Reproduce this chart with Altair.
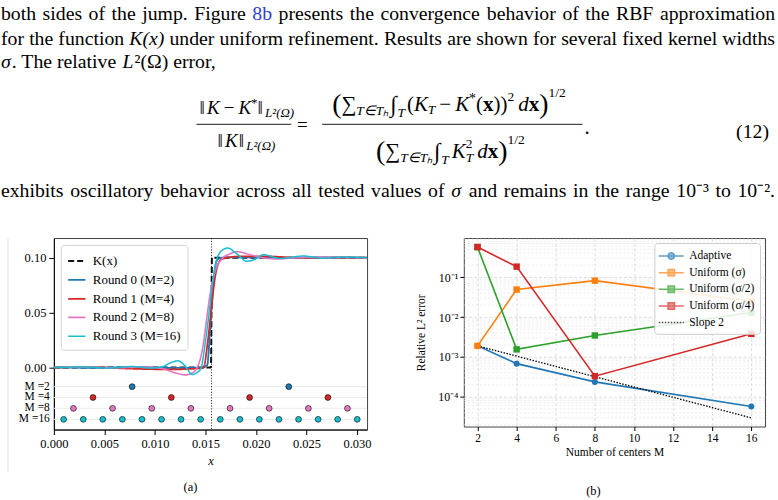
import altair as alt
import pandas as pd

SERIF = "Liberation Serif"
BLUE, ORANGE, GREEN, RED, PINK, CYAN = "#1f77b4", "#ff7f0e", "#2ca02c", "#d62728", "#e377c2", "#17becf"
LINK = "#2f3fd0"

# ---------------- page text ----------------
LINE1 = ["both sides of the jump. Figure", "8b", "presents the convergence behavior of the RBF approximation"]
LINE2 = ["for the function", "K(x)", "under uniform refinement. Results are shown for several fixed kernel widths"]
LINE3 = ["σ", ". The relative", "L", "²(Ω) error,"]
LINE4 = ["exhibits oscillatory behavior across all tested values of", "σ",
         "and remains in the range 10⁻³ to 10⁻²."]
EQ_NUMBER = "(12)"
CAPTIONS = ["(a)", "(b)"]

# ---------------- panel (a) data ----------------
K_X = [0.0, 0.01555, 0.01565, 0.031]
K_Y = [0.0, 0.0, 0.1, 0.1]
R0_X = [0.0, 0.004, 0.008, 0.012, 0.0146, 0.01517, 0.01549, 0.01582, 0.01615, 0.01665, 0.019, 0.023, 0.027, 0.031]
R0_Y = [0.0, -0.0003, 0.0002, -0.0004, -0.0003, 0.002, 0.0385, 0.081, 0.0976, 0.1, 0.1004, 0.0998, 0.1002, 0.1]
R1_X = [0.0, 0.004, 0.0065, 0.009, 0.0115, 0.0135, 0.0148, 0.01523, 0.01559, 0.01599, 0.01648, 0.01714,
        0.0185, 0.021, 0.0235, 0.026, 0.0285, 0.031]
R1_Y = [0.0, 0.0003, -0.0008, -0.0015, -0.0018, -0.0014, -0.0003, 0.0234, 0.0536, 0.084, 0.0976, 0.1,
        0.1012, 0.1012, 0.1002, 0.0997, 0.1001, 0.1]
R2_X = [0.0, 0.003, 0.006, 0.009, 0.0108, 0.0121, 0.013, 0.0138, 0.01418, 0.01451, 0.01483, 0.01517,
        0.01556, 0.01599, 0.01665, 0.01747, 0.0181, 0.0195, 0.021, 0.0222, 0.024, 0.027, 0.031]
R2_Y = [0.0, 0.0004, -0.0003, 0.0003, -0.0012, -0.0052, -0.0068, -0.0045, 0.0, 0.0082, 0.0234, 0.0476,
        0.0718, 0.0885, 0.099, 0.1036, 0.1055, 0.1025, 0.0995, 0.0988, 0.1, 0.1003, 0.1]
R3_X = [0.0, 0.003, 0.0055, 0.0078, 0.0095, 0.0108, 0.0116, 0.0123, 0.013, 0.0137, 0.0142, 0.01455, 0.015,
        0.01542, 0.01582, 0.01615, 0.01665, 0.0172, 0.0181, 0.0191, 0.0199, 0.02075, 0.0224, 0.02467,
        0.02664, 0.02862, 0.031]
R3_Y = [0.0, 0.0004, -0.0005, 0.0008, -0.0006, 0.0008, 0.0045, 0.006, 0.0012, -0.0065, -0.0045, -0.001, 0.0234,
        0.0536, 0.084, 0.099, 0.1067, 0.1088, 0.1035, 0.0968, 0.0985, 0.1027, 0.0993, 0.1015,
        0.0995, 0.1005, 0.1]
CURVE_NAMES = ["K(x)", "Round 0 (M=2)", "Round 1 (M=4)", "Round 2 (M=8)", "Round 3 (M=16)"]
CURVE_COLORS = ["#111111", BLUE, RED, PINK, CYAN]
CURVE_DASH = [[6, 3], [1, 0], [1, 0], [1, 0], [1, 0]]
CURVE_WIDTH = [2.0, 1.5, 1.5, 1.5, 1.5]
JUMP_X = 0.0156

ROW_NAMES = ["M =2", "M =4", "M =8", "M =16"]
ROW_Y = [-0.0175, -0.0274, -0.0373, -0.0473]
ROW_COLORS = [BLUE, RED, PINK, CYAN]
CENTERS = [
    [0.00775, 0.02325],
    [0.003875, 0.011625, 0.019375, 0.027125],
    [0.00194, 0.00581, 0.00969, 0.01356, 0.01744, 0.02131, 0.02519, 0.02906],
    [0.00097, 0.00291, 0.00484, 0.00678, 0.00872, 0.01066, 0.01259, 0.01453,
     0.01647, 0.01841, 0.02034, 0.02228, 0.02422, 0.02616, 0.02809, 0.03003],
]
XA_TICKS = [0.0, 0.005, 0.01, 0.015, 0.02, 0.025, 0.03]
YA_TICKS = [0.0, 0.05, 0.1]

# ---------------- panel (b) data ----------------
M_VALUES = [2, 4, 8, 16]
ERR_NAMES = ["Adaptive", "Uniform (σ)", "Uniform (σ/2)", "Uniform (σ/4)"]
ERR_COLORS = [BLUE, ORANGE, GREEN, RED]
ADAPTIVE = [1.9e-3, 6.8e-4, 2.37e-4, 5.7e-5]
UNI_S = [1.9e-3, 4.9e-2, 8.2e-2, 2.5e-2]
UNI_S2 = [5.7e-1, 1.55e-3, 3.46e-3, 1.3e-2]
UNI_S4 = [5.7e-1, 1.84e-1, 3.3e-4, 3.8e-3]
SLOPE_NAME = "Slope 2"
SLOPE_M = [2, 16]
SLOPE_V = [1.9e-3, 2.97e-5]
XB_TICKS = [2, 4, 6, 8, 10, 12, 14, 16]
YB_TICKS = [1e-4, 1e-3, 1e-2, 1e-1]
MINOR = [m * 10.0 ** e for e in (-5, -4, -3, -2, -1) for m in range(2, 10)]

# ---------------- text helpers ----------------
ONE = pd.DataFrame({"d": [0]})
OX = 53  # the text block shares its left origin with panel (a)'s plot area
B = 19.8  # body font size

# approximate advance widths (em) of the serif font, used only to lay words out on a line
W = {' ': .25, '(': .333, ')': .333, ',': .25, '.': .25, '/': .278, '=': .564, '*': .5, '−': .564,
     'σ': .6, 'Ω': .768, '²': .3, '³': .3, '⁻': .35, '∑': .71, '∈': .71, 'ₕ': .4, '∫': .27, '‖': .4}
W.update({d: .5 for d in "0123456789"})
W.update(dict(zip("ABCDEFGHIJKLMNOPQRSTUVWXYZ",
                  [.722, .667, .667, .722, .611, .556, .722, .722, .333, .389, .722, .611, .889, .722, .722,
                   .556, .722, .667, .556, .611, .722, .722, .944, .722, .722, .611])))
W.update(dict(zip("abcdefghijklmnopqrstuvwxyz",
                  [.444, .5, .444, .5, .444, .333, .5, .5, .278, .278, .5, .278, .778, .5, .5, .5, .5, .333,
                   .389, .278, .5, .5, .722, .5, .5, .444])))
W_IT = {'K': .667, 'x': .444, 'L': .556, 'T': .556, 'd': .5, 'σ': .55}


def tw(text, size, style="normal"):
    tab = dict(W, **W_IT) if style == "italic" else W
    return sum(tab.get(ch, .5) for ch in text) * size


def label(text, x, y, size=B, style="normal", weight="normal", color="black", align="left"):
    return alt.Chart(ONE).mark_text(
        text=text, align=align, baseline="middle", font=SERIF, fontSize=size,
        fontStyle=style, fontWeight=weight, color=color
    ).encode(x=alt.value(x - OX), y=alt.value(y))


def hline(x1, x2, y, width=0.9):
    return alt.Chart(ONE).mark_rule(color="black", strokeWidth=width).encode(
        x=alt.value(x1 - OX), x2=alt.value(x2 - OX), y=alt.value(y))


def justified(words, y, right=776):
    """words: list of (text, style, color); spreads them over the full text width."""
    ws = [tw(t, B, s) for t, s, c in words]
    gap = (right - sum(ws)) / (len(words) - 1)
    out, x = [], 0.0
    for k, ((t, s, c), w) in enumerate(zip(words, ws)):
        if k == len(words) - 1:
            out.append(label(t, right, y, B, s, color=c, align="right"))
        else:
            out.append(label(t, x, y, B, s, color=c))
        x += w + gap
    return out


def run(x0, y, items):
    """items: (text, size, style, weight, dy, gap_after, advance)"""
    out, x = [], x0
    for t, size, style, weight, dy, gap, adv in items:
        out.append(label(t, x, y + dy, size, style, weight))
        if adv:
            x += tw(t, size, style)
        x += gap
    return out


def it(t, size, dy=0, gap=0, adv=True):
    return (t, size, "italic", "normal", dy, gap, adv)


def rm(t, size, dy=0, gap=0, adv=True):
    return (t, size, "normal", "normal", dy, gap, adv)


def bf(t, size, dy=0, gap=0, adv=True):
    return (t, size, "normal", "bold", dy, gap, adv)


def words(text, style="normal", color="black"):
    return [(w, style, color) for w in text.split()]


# ---------------- top text block ----------------
EM, SB, BIG = 21, 13.5, 28
pieces = []
pieces += justified(words(LINE1[0]) + words(LINE1[1], color=LINK) + words(LINE1[2]), 12)
pieces += justified(words(LINE2[0]) + words(LINE2[1], "italic") + words(LINE2[2]), 37)
pieces += run(0, 61, [it(LINE3[0], B), rm(LINE3[1], B, gap=B * .3), it(LINE3[2], B, gap=1), rm(LINE3[3], B)])
pieces += justified(words(LINE4[0]) + words(LINE4[1], "italic") + words(LINE4[2]), 190)
# left fraction
pieces += run(199, 107, [rm("‖", 19), it("K", 19, gap=4), rm("−", 19, gap=4), it("K", 19),
                         rm("*", 13, dy=-5), rm("‖", 19), it("L²(Ω)", 13, dy=5)])
pieces += [hline(196, 291, 123)]
pieces += run(217, 140, [rm("‖", 19), it("K", 19, gap=1), rm("‖", 19), it("L²(Ω)", 13, dy=5)])
pieces += [label("=", 302, 124, 19, align="center")]
# right numerator
pieces += run(332, 104, [rm("(", BIG), rm("∑", EM), it("T∈Tₕ", SB, dy=6, gap=4), it("∫", 23, gap=1),
                         it("T", SB, dy=8, gap=2), rm("(", EM), it("K", EM), it("T", SB, dy=5, gap=4),
                         rm("−", EM, gap=4), it("K", EM), rm("*", 14, dy=-6), rm("(", EM), bf("x", EM),
                         rm("))", EM), rm("2", SB, dy=-8, gap=4), it("d", EM), bf("x", EM),
                         rm(")", BIG), rm("1/2", SB, dy=-12)])
pieces += [hline(322, 583, 123)]
# right denominator
pieces += run(376, 151, [rm("(", BIG), rm("∑", EM), it("T∈Tₕ", SB, dy=6, gap=4), it("∫", 23, gap=1),
                         it("T", SB, dy=8, gap=3), it("K", EM), rm("2", SB, dy=-8, adv=False),
                         it("T", SB, dy=6, gap=4), it("d", EM), bf("x", EM), rm(")", BIG),
                         rm("1/2", SB, dy=-12)])
pieces += [label(".", 585, 127, EM), label(EQ_NUMBER, 737, 131, B)]
top = alt.layer(*pieces).properties(width=778 - OX, height=231,
                                     view=alt.ViewBackground(stroke="transparent"))

# ---------------- panel (a) ----------------
rows = []
for name, xs, ys in zip(CURVE_NAMES, [K_X, R0_X, R1_X, R2_X, R3_X], [K_Y, R0_Y, R1_Y, R2_Y, R3_Y]):
    for i, (a, b) in enumerate(zip(xs, ys)):
        rows.append({"series": name, "x": a, "y": b, "i": i})
curves_df = pd.DataFrame(rows)

pts = []
for name, yv, cs in zip(ROW_NAMES, ROW_Y, CENTERS):
    for c in cs:
        pts.append({"grp": name, "x": c, "y": yv})
pts_df = pd.DataFrame(pts)
rows_df = pd.DataFrame({"y": ROW_Y, "label": ROW_NAMES})
jump_df = pd.DataFrame({"x": [JUMP_X]})

xs_a = alt.Scale(domain=[0, 0.031], nice=False, zero=False)
ys_a = alt.Scale(domain=[-0.0566, 0.1179], nice=False, zero=False)
XA = alt.X("x:Q", scale=xs_a, axis=alt.Axis(values=XA_TICKS, format=".3f", title="x", titleFontStyle="italic",
                                           titleFontSize=12.5, titlePadding=5, grid=False, tickSize=5,
                                           labelFontSize=12.5, labelPadding=3, labelFlush=False))
YA = alt.Y("y:Q", scale=ys_a, axis=alt.Axis(values=YA_TICKS, format=".2f", title=None, grid=False, tickSize=5,
                                           labelFontSize=12.5, labelPadding=3, minExtent=53, maxExtent=53))

LEG_A = alt.Legend(title=None, orient="top-left", offset=7, fillColor="white", strokeColor="#d5d5d5",
                   cornerRadius=3, padding=6, labelFont=SERIF, labelFontSize=13, labelColor="black",
                   symbolType="stroke", symbolSize=300, rowPadding=2, labelOffset=6, labelLimit=200)

border = alt.Chart(ONE).mark_rule(color="#e2e2e2", strokeWidth=1).encode(
    x=alt.value(-46), y=alt.value(0), y2=alt.value(235))
m_rules = alt.Chart(rows_df).mark_rule(color="#ececec", strokeWidth=1).encode(y=YA)
jump = alt.Chart(jump_df).mark_rule(color="black", strokeDash=[1.2, 1.6], strokeWidth=0.8).encode(x=XA)
curves = alt.Chart(curves_df).mark_line(interpolate="monotone").encode(
    x=XA, y=YA,
    color=alt.Color("series:N", scale=alt.Scale(domain=CURVE_NAMES, range=CURVE_COLORS), legend=LEG_A),
    strokeDash=alt.StrokeDash("series:N", scale=alt.Scale(domain=CURVE_NAMES, range=CURVE_DASH), legend=LEG_A),
    strokeWidth=alt.StrokeWidth("series:N", scale=alt.Scale(domain=CURVE_NAMES, range=CURVE_WIDTH), legend=LEG_A),
    order="i:Q",
)
points_a = alt.Chart(pts_df).mark_point(filled=True, size=34, opacity=1, stroke="black", strokeWidth=0.6).encode(
    x=XA, y=YA,
    fill=alt.Fill("grp:N", scale=alt.Scale(domain=ROW_NAMES, range=ROW_COLORS), legend=None),
)
m_text = alt.Chart(rows_df).mark_text(align="right", baseline="middle", font=SERIF, fontSize=11.5,
                                      color="black").encode(y=YA, x=alt.value(-4), text="label:N")
cap_a = alt.Chart(ONE).mark_text(text=CAPTIONS[0], font=SERIF, fontSize=12.5, color="black",
                                 align="center", baseline="middle").encode(x=alt.value(137), y=alt.value(250))

left = alt.layer(border, m_rules, jump, curves, points_a, m_text, cap_a).properties(width=314, height=192)

# ---------------- panel (b) ----------------
err_rows = []
for name, vals in zip(ERR_NAMES, [ADAPTIVE, UNI_S, UNI_S2, UNI_S4]):
    for m, v in zip(M_VALUES, vals):
        err_rows.append({"series": name, "M": m, "err": v})
err_df = pd.DataFrame(err_rows)
slope_df = pd.DataFrame({"M": SLOPE_M, "err": SLOPE_V})
minor_df = pd.DataFrame({"err": MINOR})

LEG_NAMES = ERR_NAMES + [SLOPE_NAME]
R = 1.786
C = 0.457
CIRCLE_PATH = f"M-{R},0H{R}M-{C},0A{C},{C},0,1,0,{C},0A{C},{C},0,1,0,-{C},0Z"
SQUARE_PATH = f"M-{R},0H{R}M-{C},-{C}H{C}V{C}H-{C}Z"
LINE_PATH = f"M-{R},0H{R}"
leg_df = pd.DataFrame({"series": LEG_NAMES, "M": [0] * 5, "err": [1e-3] * 5})

xs_b = alt.Scale(domain=[1.3, 16.7], nice=False, zero=False)
ys_b = alt.Scale(type="log", domain=[1.8e-5, 0.96], nice=False)
LABEL_EXPR = ("datum.value < 0.0005 ? '10⁻⁴' : datum.value < 0.005 ? '10⁻³' : "
              "datum.value < 0.05 ? '10⁻²' : '10⁻¹'")
XB = alt.X("M:Q", scale=xs_b, axis=alt.Axis(values=XB_TICKS, title="Number of centers M", titleFontSize=11.5,
                                           titlePadding=3, labelFontSize=11.5, tickSize=4, labelPadding=2,
                                           grid=True, gridDash=[3, 2], gridColor="#d3d3d3", gridWidth=0.8,
                                           domain=False))
YB = alt.Y("err:Q", scale=ys_b, axis=alt.Axis(values=YB_TICKS, labelExpr=LABEL_EXPR, title="Relative L² error",
                                             titleFontSize=11.5, titlePadding=11, labelFontSize=12,
                                             tickSize=4, labelPadding=2, minExtent=26, maxExtent=26,
                                             grid=True, gridDash=[3, 2], gridColor="#d3d3d3", gridWidth=0.8,
                                             domain=False))
COL_B = alt.Color("series:N", scale=alt.Scale(domain=ERR_NAMES, range=ERR_COLORS), legend=None)
LEG_B = alt.Legend(title=None, orient="top-right", offset=5, fillColor="rgba(255,255,255,0.85)",
                   strokeColor="#cccccc", cornerRadius=3, padding=5, labelFont=SERIF, labelFontSize=11.5,
                   labelColor="black", symbolSize=196, symbolStrokeWidth=1.5, rowPadding=1.7,
                   labelOffset=10, symbolOffset=4, labelLimit=200)

minor = alt.Chart(minor_df).mark_rule(color="#e2e2e2", strokeDash=[2, 2], strokeWidth=0.7).encode(y=YB)
lines_b = alt.Chart(err_df).mark_line(strokeWidth=1.6).encode(x=XB, y=YB, color=COL_B)
slope = alt.Chart(slope_df).mark_line(color="black", strokeDash=[1.5, 1.5], strokeWidth=1.3).encode(x=XB, y=YB)
circles = alt.Chart(err_df[err_df.series == ERR_NAMES[0]]).mark_point(
    shape="circle", filled=True, size=36, opacity=1).encode(x=XB, y=YB, color=COL_B)
squares = alt.Chart(err_df[err_df.series != ERR_NAMES[0]]).mark_square(size=42, opacity=1).encode(
    x=XB, y=YB, color=COL_B)
legend_b = alt.Chart(leg_df).mark_point(filled=True, clip=True).encode(
    x=XB, y=YB,
    shape=alt.Shape("series:N", scale=alt.Scale(domain=LEG_NAMES,
                                                range=[CIRCLE_PATH, SQUARE_PATH, SQUARE_PATH, SQUARE_PATH, LINE_PATH]),
                    legend=LEG_B),
    fill=alt.Fill("series:N", scale=alt.Scale(domain=LEG_NAMES, range=ERR_COLORS + ["black"]), legend=LEG_B),
    stroke=alt.Stroke("series:N", scale=alt.Scale(domain=LEG_NAMES, range=ERR_COLORS + ["black"]), legend=LEG_B),
    strokeDash=alt.StrokeDash("series:N", scale=alt.Scale(domain=LEG_NAMES,
                                                          range=[[1, 0], [1, 0], [1, 0], [1, 0], [1.5, 1.5]]),
                              legend=LEG_B),
)
spacer = alt.Chart(ONE).mark_rule(opacity=0).encode(x=alt.value(0), y=alt.value(-4), y2=alt.value(0))
cap_b = alt.Chart(ONE).mark_text(text=CAPTIONS[1], font=SERIF, fontSize=12.5, color="black",
                                 align="center", baseline="middle").encode(x=alt.value(130), y=alt.value(254))

right = alt.layer(minor, lines_b, slope, circles, squares, legend_b, spacer, cap_b).properties(
    width=302, height=189)

INDEP = dict(color="independent", fill="independent", stroke="independent", shape="independent",
             strokeDash="independent", strokeWidth="independent")
bottom = alt.hconcat(left, right, spacing=43).resolve_scale(**INDEP).resolve_legend(**INDEP)

chart = alt.vconcat(top, bottom, spacing=0).resolve_scale(**INDEP).resolve_legend(**INDEP).properties(
    padding=0).configure(
    font=SERIF
).configure_axis(
    labelFont=SERIF, titleFont=SERIF, labelColor="black", titleColor="black", tickColor="black",
    domainColor="black", titleFontWeight="normal"
).configure_view(stroke="#444444")

chart.save("out.html", embed_options={"renderer": "svg", "actions": False})
